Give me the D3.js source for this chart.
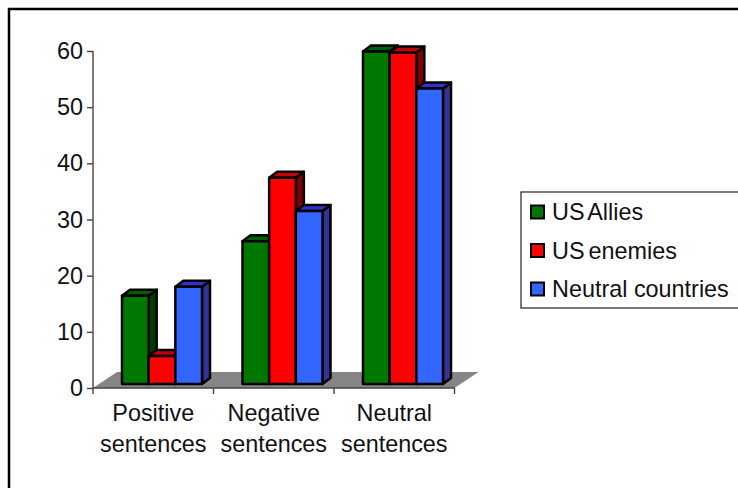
<!DOCTYPE html>
<html>
<head>
<meta charset="utf-8">
<script src="https://cdnjs.cloudflare.com/ajax/libs/d3/7.8.5/d3.min.js"></script>
<style>
  html, body { margin: 0; padding: 0; background: #fff; overflow: hidden; }
  svg { display: block; }
  text { font-family: "Liberation Sans", Arial, sans-serif; fill: #111; }
</style>
</head>
<body>
<div id="chart"></div>
<script>
const categories = [["Positive", "sentences"], ["Negative", "sentences"], ["Neutral", "sentences"]];
const seriesNames = ["US Allies", "US enemies", "Neutral countries"];
const usAllies = [15.7, 25.4, 59.2];
const usEnemies = [5, 36.7, 59];
const neutralCountries = [17.3, 30.8, 52.6];
const yTicks = [0, 10, 20, 30, 40, 50, 60];

const seriesValues = [usAllies, usEnemies, neutralCountries];
const frontColors = ["#007800", "#ff0000", "#3366ff"];
const topColors = ["#005f00", "#c80000", "#3333cc"];
const sideColors = ["#003c00", "#800000", "#333399"];

const width = 738, height = 488;
const fontSize = 23.4;
const svg = d3.select("#chart").append("svg").attr("width", width).attr("height", height);

// Outer chart frame, open at the right and bottom edges of the page
svg.append("path")
  .attr("d", "M9,488V9H738")
  .attr("fill", "none").attr("stroke", "#000").attr("stroke-width", 2.5);

const y = d3.scaleLinear().domain([0, 60]).range([388, 51]);
const x = d3.scaleBand().domain(d3.range(categories.length)).range([93, 454.5]);
const inner = d3.scaleBand().domain(d3.range(seriesNames.length)).range([29, 109]);

// Oblique projection: depth of the floor and depth of a single bar
const floorDepth = { dx: 24, dy: -16 };
const barDepth = { dx: 8, dy: -6 };
const barLift = 4;

// Floor
svg.append("path")
  .attr("d", d3.line()([
    [x.range()[0], y(0)],
    [x.range()[0] + floorDepth.dx, y(0) + floorDepth.dy],
    [x.range()[1] + floorDepth.dx, y(0) + floorDepth.dy],
    [x.range()[1], y(0)]
  ]) + "Z")
  .attr("fill", "#858585");

// Axes
const yAxis = d3.axisLeft(y).tickValues(yTicks).tickSize(6).tickPadding(4);
const gy = svg.append("g").attr("transform", `translate(${x.range()[0]},0)`).call(yAxis);
gy.selectAll("path").attr("stroke", "#444").attr("stroke-width", 1.4).attr("d", `M0,${y(60)}V${y(0)}`);
gy.selectAll("line").attr("stroke", "#444").attr("stroke-width", 1.4);
gy.selectAll("text").attr("font-size", fontSize).style("font-family", '"Liberation Sans", Arial, sans-serif').attr("fill", "#111");

const tickXs = d3.range(categories.length + 1).map(i => i < categories.length ? x(i) : x.range()[1]);
svg.append("g").selectAll("line").data(tickXs).join("line")
  .attr("x1", d => d).attr("x2", d => d).attr("y1", y(0)).attr("y2", y(0) + 6)
  .attr("stroke", "#444").attr("stroke-width", 1.4);
svg.append("line")
  .attr("x1", x.range()[0]).attr("x2", x.range()[1]).attr("y1", y(0)).attr("y2", y(0))
  .attr("stroke", "#444").attr("stroke-width", 1.4);

// Bars: each group is painted left to right so neighbours overlap correctly
const barOutline = { stroke: "#000", width: 2.5 };
categories.forEach((_, c) => {
  seriesValues.forEach((values, s) => {
    const x0 = x(c) + inner(s), w = inner.bandwidth();
    const y0 = y(0) - barLift, yT = y(values[c]) - barLift;
    const g = svg.append("g")
      .attr("stroke", barOutline.stroke).attr("stroke-width", barOutline.width)
      .attr("stroke-linejoin", "round");
    g.append("path").attr("fill", sideColors[s]).attr("d", d3.line()([
      [x0 + w, y0], [x0 + w + barDepth.dx, y0 + barDepth.dy],
      [x0 + w + barDepth.dx, yT + barDepth.dy], [x0 + w, yT]
    ]) + "Z");
    g.append("path").attr("fill", topColors[s]).attr("d", d3.line()([
      [x0, yT], [x0 + barDepth.dx, yT + barDepth.dy],
      [x0 + w + barDepth.dx, yT + barDepth.dy], [x0 + w, yT]
    ]) + "Z");
    g.append("rect").attr("x", x0).attr("y", yT).attr("width", w).attr("height", y0 - yT)
      .attr("fill", frontColors[s]);
  });
});

// Category labels
const labels = svg.append("g").selectAll("text").data(categories).join("text")
  .attr("text-anchor", "middle").attr("font-size", fontSize)
  .attr("transform", (d, i) => `translate(${x(i) + x.bandwidth() / 2},0)`);
labels.selectAll("tspan").data(d => d).join("tspan")
  .attr("x", 0).attr("y", (d, i) => 421 + i * 31).text(d => d);

// Legend
const legend = svg.append("g");
legend.append("rect").attr("x", 521).attr("y", 192).attr("width", 225).attr("height", 116)
  .attr("fill", "#fff").attr("stroke", "#222").attr("stroke-width", 1.2);
const legendRow = d3.scalePoint().domain(seriesNames).range([212, 289]);
seriesNames.forEach((name, s) => {
  const cy = legendRow(name);
  legend.append("rect").attr("x", 531).attr("y", cy - 6.5).attr("width", 13).attr("height", 13)
    .attr("fill", frontColors[s]).attr("stroke", "#000").attr("stroke-width", 2);
  legend.append("text").attr("x", 552).attr("y", cy + 8).attr("font-size", fontSize)
    .attr("word-spacing", s < 2 ? -2.5 : 0).text(name);
});
</script>
</body>
</html>
